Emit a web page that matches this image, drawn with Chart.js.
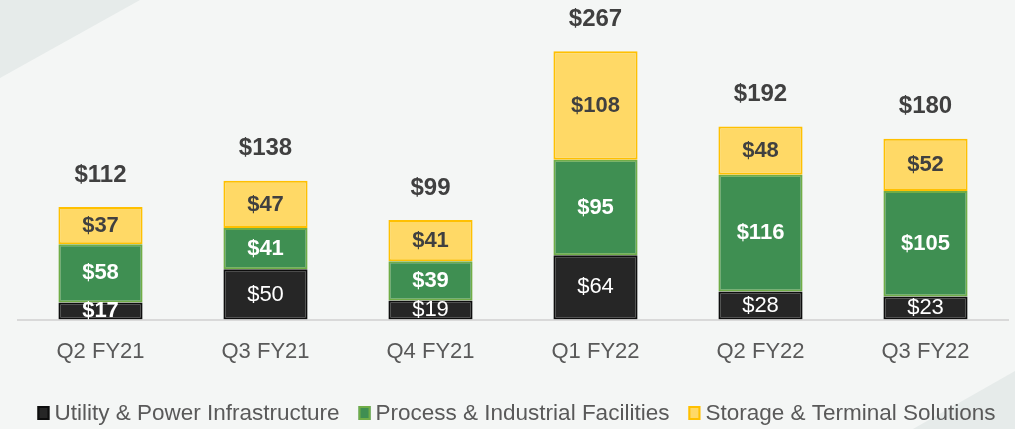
<!DOCTYPE html>
<html>
<head>
<meta charset="utf-8">
<script src="https://cdn.jsdelivr.net/npm/chart.js@4"></script>
<style>
  html, body { margin: 0; padding: 0; background: #f4f6f5; }
  #wrap { width: 1015px; height: 429px; position: relative; }
</style>
</head>
<body>
<div id="wrap"><canvas id="chart" width="1015" height="429"></canvas></div>
<script>
// values ($M)
const quarters = ["Q2 FY21", "Q3 FY21", "Q4 FY21", "Q1 FY22", "Q2 FY22", "Q3 FY22"];
const utility = [17, 50, 19, 64, 28, 23];
const process = [58, 41, 39, 95, 116, 105];
const storage = [37, 47, 41, 108, 48, 52];
const totals = [112, 138, 99, 267, 192, 180];

const FONT = "'Liberation Sans', Arial, sans-serif";

// slide background with the two pale corner triangles
const backdrop = {
  id: "backdrop",
  beforeDraw(chart) {
    const ctx = chart.ctx;
    ctx.save();
    ctx.fillStyle = "#f4f6f5";
    ctx.fillRect(0, 0, chart.width, chart.height);
    ctx.fillStyle = "#e6ebea";
    ctx.beginPath();
    ctx.moveTo(0, 0); ctx.lineTo(140, 0); ctx.lineTo(0, 78); ctx.closePath();
    ctx.fill();
    ctx.beginPath();
    ctx.moveTo(1015, 371); ctx.lineTo(1015, 429); ctx.lineTo(913, 429); ctx.closePath();
    ctx.fill();
    ctx.restore();
  }
};

// value labels inside segments and totals above the stacks
const valueLabels = {
  id: "valueLabels",
  afterDatasetsDraw(chart) {
    const ctx = chart.ctx;
    ctx.save();
    ctx.textAlign = "center";
    ctx.textBaseline = "middle";
    chart.data.datasets.forEach((ds, di) => {
      const meta = chart.getDatasetMeta(di);
      meta.data.forEach((bar, i) => {
        const mid = (bar.y + bar.base) / 2;
        let bold = di > 0 || i === 0;
        ctx.font = (bold ? "bold " : "") + "22px " + FONT;
        ctx.fillStyle = di === 2 ? "#404040" : "#ffffff";
        ctx.fillText("$" + ds.data[i], bar.x, mid);
      });
    });
    const top = chart.getDatasetMeta(2);
    ctx.font = "bold 24px " + FONT;
    ctx.fillStyle = "#404040";
    top.data.forEach((bar, i) => {
      ctx.fillText("$" + totals[i], bar.x, bar.y - 32);
    });
    ctx.restore();
  }
};

// legend row under the axis, square swatch hugging its text
const legendRow = {
  id: "legendRow",
  afterDraw(chart) {
    const ctx = chart.ctx;
    const y = 413, box = 12, boxH = 14, gap = 5, spacing = 19;
    ctx.save();
    ctx.font = "22.5px " + FONT;
    ctx.textBaseline = "middle";
    const items = chart.data.datasets.map(ds => ({
      text: ds.label, fill: ds.backgroundColor, stroke: ds.borderColor,
      w: box + gap + ctx.measureText(ds.label).width
    }));
    const total = items.reduce((s, it) => s + it.w, 0) + spacing * (items.length - 1);
    let x = (chart.width - total) / 2 + 9;
    items.forEach(it => {
      ctx.fillStyle = it.fill;
      ctx.strokeStyle = it.stroke;
      ctx.lineWidth = 2;
      ctx.fillRect(x, y - boxH / 2, box, boxH);
      ctx.strokeRect(x + 1, y - boxH / 2 + 1, box - 2, boxH - 2);
      ctx.fillStyle = "#595959";
      ctx.fillText(it.text, x + box + gap, y + 1);
      x += it.w + spacing;
    });
    ctx.restore();
  }
};

new Chart(document.getElementById("chart"), {
  type: "bar",
  data: {
    labels: quarters,
    datasets: [
      { label: "Utility & Power Infrastructure", data: utility,
        backgroundColor: "#262626", borderColor: "#0d0d0d" },
      { label: "Process & Industrial Facilities", data: process,
        backgroundColor: "#3f8f52", borderColor: "#70ad47" },
      { label: "Storage & Terminal Solutions", data: storage,
        backgroundColor: "#ffd966", borderColor: "#ffc000" }
    ].map(d => Object.assign(d, { borderWidth: 2, borderSkipped: false, categoryPercentage: 1, barPercentage: 0.51 }))
  },
  options: {
    responsive: false,
    animation: false,
    layout: { padding: { left: 18, right: 7, top: 18, bottom: 53 } },
    plugins: {
      legend: { display: false },
      tooltip: { enabled: false }
    },
    scales: {
      x: {
        stacked: true,
        grid: { display: false },
        border: { color: "#d9d9d9", width: 2 },
        ticks: { color: "#595959", padding: 11, font: { size: 22, family: FONT } }
      },
      y: {
        stacked: true, display: false, min: 0, max: 300
      }
    }
  },
  plugins: [backdrop, valueLabels, legendRow]
});
</script>
</body>
</html>
